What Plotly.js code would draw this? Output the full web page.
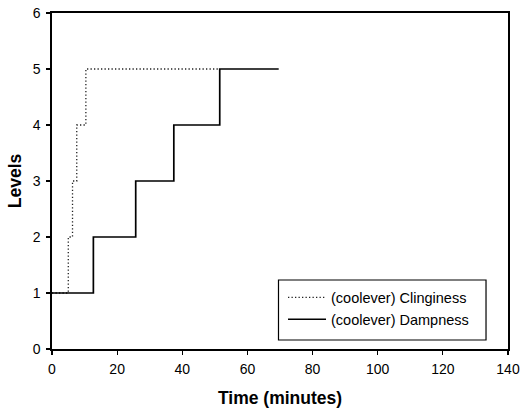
<!DOCTYPE html>
<html><head><meta charset="utf-8">
<script src="https://cdn.plot.ly/plotly-3.0.1.min.js"></script>
<style>html,body{margin:0;padding:0;background:#fff}</style>
</head><body><div id="chart" style="width:520px;height:408px"></div>
<script>
const clingTime = [0, 5, 6.3, 7.6, 10.4, 51];
const clingLevel = [1, 2, 3, 4, 5, 5];
const dampTime = [0, 12.7, 25.7, 37.4, 51.5, 69.6];
const dampLevel = [1, 2, 3, 4, 5, 5];
const seriesNames = ['(coolever) Clinginess', '(coolever) Dampness'];

const traces = [
  {x: clingTime, y: clingLevel, name: seriesNames[0], mode: 'lines',
   line: {shape: 'hv', color: '#222', width: 1.3, dash: '1.3px,2.2px'}},
  {x: dampTime, y: dampLevel, name: seriesNames[1], mode: 'lines',
   line: {shape: 'hv', color: '#000', width: 1.7}}
];
const font = {family: 'Liberation Sans, Arial, sans-serif', color: '#000'};
const layout = {
  width: 520, height: 408,
  margin: {l: 52, r: 12, t: 13, b: 59},
  paper_bgcolor: '#fff', plot_bgcolor: '#fff',
  font: Object.assign({size: 14}, font),
  showlegend: true,
  legend: {x: 0.5066, xanchor: 'left', y: 0.2009, yanchor: 'top',
           borderwidth: 0, bgcolor: 'rgba(0,0,0,0)',
           font: Object.assign({size: 14.5}, font), tracegroupgap: 0,
           itemwidth: 38},
  shapes: [{type: 'rect', xref: 'paper', yref: 'paper',
            x0: 0.4967, x1: 0.9518, y0: 0.0268, y1: 0.2054,
            line: {color: '#000', width: 1.2}, fillcolor: 'rgba(0,0,0,0)'}],
  xaxis: {range: [0, 140], dtick: 20, tick0: 0, showgrid: false, zeroline: false,
          showline: true, linecolor: '#000', linewidth: 1.6, mirror: true,
          ticks: 'outside', ticklen: 4, tickcolor: '#000', tickwidth: 1.2,
          ticklabelstandoff: 3,
          tickfont: Object.assign({size: 14}, font),
          title: {text: '<b>Time (minutes)</b>', font: Object.assign({size: 17.5}, font), standoff: 16}},
  yaxis: {range: [0, 6], dtick: 1, tick0: 0, showgrid: false, zeroline: false,
          showline: true, linecolor: '#000', linewidth: 1.6, mirror: true,
          ticks: 'outside', ticklen: 4, tickcolor: '#000', tickwidth: 1.2,
          ticklabelstandoff: 3,
          tickfont: Object.assign({size: 14}, font),
          title: {text: '<b>Levels</b>', font: Object.assign({size: 17.5}, font), standoff: 6}}
};
Plotly.newPlot('chart', traces, layout, {displayModeBar: false, staticPlot: true});
</script></body></html>
